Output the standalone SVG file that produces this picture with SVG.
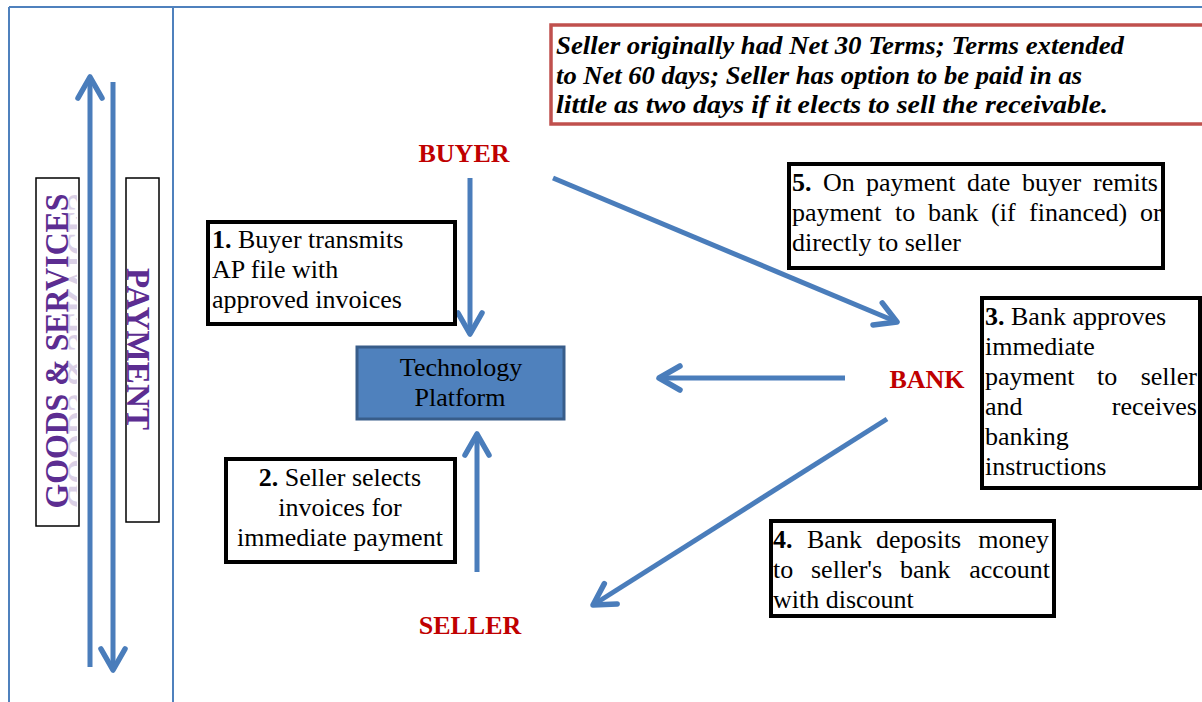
<svg xmlns="http://www.w3.org/2000/svg" width="1202" height="702" viewBox="0 0 1202 702">
<style>
.frame{stroke:#4f81bd;stroke-width:2;fill:none}
.conn{stroke:#4a7dbb;stroke-width:5;fill:none;stroke-linecap:butt}
.box{fill:#fff;stroke:#000;stroke-width:4}
.t{font-family:"Liberation Serif","Times New Roman",serif;font-size:26px;fill:#000}
.b{font-weight:bold}
.e{text-anchor:end}
.lbl{font-family:"Liberation Serif","Times New Roman",serif;font-size:26px;font-weight:bold;fill:#c00000;text-anchor:middle}
.vert{font-family:"Liberation Serif","Times New Roman",serif;font-weight:bold;fill:#5c2d91;text-anchor:middle}
.note{font-family:"Liberation Serif","Times New Roman",serif;font-size:26px;font-weight:bold;font-style:italic;fill:#000}
</style>
<defs>
<marker id="ah" markerUnits="userSpaceOnUse" markerWidth="40" markerHeight="40" viewBox="-30 -20 40 40" refX="0" refY="0" orient="auto">
<path d="M-21,-12 L0,0 L-21,12" fill="none" stroke="#4a7dbb" stroke-width="5.5" stroke-linecap="round" stroke-linejoin="round"/>
</marker>
<linearGradient id="pg" x1="0" y1="0" x2="1" y2="0">
<stop offset="0" stop-color="#4b2380"/>
<stop offset="0.5" stop-color="#7030a0"/>
<stop offset="1" stop-color="#4b2380"/>
</linearGradient>
<clipPath id="refl"><rect x="68" y="180" width="9" height="343"/></clipPath>
</defs>
<rect width="1202" height="702" fill="#fff"/>
<g id="frame">
<line class="frame" x1="9" y1="7" x2="1202" y2="7"/>
<line class="frame" x1="9" y1="7" x2="9" y2="702"/>
<line class="frame" x1="173" y1="7" x2="173" y2="702"/>
</g>
<g id="flows">
<line class="conn" x1="90" y1="667" x2="90" y2="77" marker-end="url(#ah)"/>
<line class="conn" x1="113" y1="82" x2="113" y2="670" marker-end="url(#ah)"/>
</g>
<g id="goods-services">
<rect x="36" y="178" width="43" height="348" fill="#fff" stroke="#000" stroke-width="1.5"/>
<text class="vert" font-size="34" transform="translate(68,351) rotate(-90)" textLength="315" lengthAdjust="spacingAndGlyphs" fill="url(#pg)">GOODS &amp; SERVICES</text>
<g clip-path="url(#refl)" opacity="0.22">
<g transform="translate(136,0) scale(-1,1)">
<text class="vert" font-size="34" transform="translate(68,351) rotate(-90)" textLength="315" lengthAdjust="spacingAndGlyphs">GOODS &amp; SERVICES</text>
</g>
</g>
</g>
<g id="payment">
<rect x="126" y="178" width="33" height="344" fill="#fff" stroke="#000" stroke-width="1.5"/>
<text class="vert" font-size="33" transform="translate(127,349) rotate(90)" textLength="162" lengthAdjust="spacingAndGlyphs">PAYMENT</text>
</g>
<g id="note">
<rect x="551" y="25" width="660" height="99" fill="#fff" stroke="#c0504d" stroke-width="3.5"/>
<text class="note" x="556" y="54" textLength="568" lengthAdjust="spacingAndGlyphs">Seller originally had Net 30 Terms; Terms extended</text>
<text class="note" x="556" y="84" textLength="526" lengthAdjust="spacingAndGlyphs">to Net 60 days; Seller has option to be paid in as</text>
<text class="note" x="556" y="113" textLength="552" lengthAdjust="spacingAndGlyphs">little as two days if it elects to sell the receivable.</text>
</g>
<g id="connectors">
<line class="conn" x1="470" y1="178" x2="470" y2="334" marker-end="url(#ah)"/>
<line class="conn" x1="477" y1="572" x2="477" y2="434" marker-end="url(#ah)"/>
<line class="conn" x1="845" y1="378" x2="659" y2="378" marker-end="url(#ah)"/>
<line class="conn" x1="553" y1="178" x2="897" y2="322" marker-end="url(#ah)"/>
<line class="conn" x1="887" y1="419" x2="593" y2="605" marker-end="url(#ah)"/>
</g>
<g id="buyer"><text class="lbl" x="464" y="162">BUYER</text></g>
<g id="bank"><text class="lbl" x="927" y="388">BANK</text></g>
<g id="seller"><text class="lbl" x="470" y="634">SELLER</text></g>
<g id="platform">
<rect x="357" y="347" width="207" height="72" fill="#4f81bd" stroke="#385d8a" stroke-width="3"/>
<text class="t" x="461" y="376" text-anchor="middle">Technology</text>
<text class="t" x="460" y="406" text-anchor="middle">Platform</text>
</g>
<g id="step1">
<rect class="box" x="208" y="222" width="247" height="102"/>
<text class="t" x="212" y="248"><tspan class="b">1.</tspan> Buyer transmits</text>
<text class="t" x="212" y="278">AP file with</text>
<text class="t" x="212" y="308">approved invoices</text>
</g>
<g id="step2">
<rect class="box" x="226" y="459" width="229" height="103"/>
<text class="t" x="340" y="486" text-anchor="middle"><tspan class="b">2.</tspan> Seller selects</text>
<text class="t" x="340" y="516" text-anchor="middle">invoices for</text>
<text class="t" x="340" y="546" text-anchor="middle">immediate payment</text>
</g>
<g id="step5">
<rect class="box" x="789" y="164" width="374" height="104"/>
<text class="t" y="191"><tspan class="b" x="792">5.</tspan><tspan x="823">On</tspan><tspan x="866">payment</tspan><tspan x="967">date</tspan><tspan x="1022">buyer</tspan></text>
<text class="t e" x="1158" y="191">remits</text>
<text class="t" y="221"><tspan x="792">payment</tspan><tspan x="895">to</tspan><tspan x="928">bank</tspan><tspan x="991">(if</tspan><tspan x="1029">financed)</tspan><tspan x="1140">or</tspan></text>
<text class="t" x="792" y="251">directly to seller</text>
</g>
<g id="step3">
<rect class="box" x="982" y="298" width="218" height="190"/>
<text class="t" x="985" y="325"><tspan class="b">3.</tspan> Bank approves</text>
<text class="t" x="985" y="355">immediate</text>
<text class="t" y="385"><tspan x="985">payment</tspan><tspan x="1097">to</tspan></text>
<text class="t e" x="1197" y="385">seller</text>
<text class="t" x="985" y="415">and</text>
<text class="t e" x="1197" y="415">receives</text>
<text class="t" x="985" y="445">banking</text>
<text class="t" x="985" y="475">instructions</text>
</g>
<g id="step4">
<rect class="box" x="771" y="521" width="283" height="95"/>
<text class="t" y="548"><tspan class="b" x="773">4.</tspan><tspan x="807">Bank</tspan><tspan x="876">deposits</tspan></text>
<text class="t e" x="1049" y="548">money</text>
<text class="t" y="578"><tspan x="773">to</tspan><tspan x="811">seller's</tspan><tspan x="900">bank</tspan></text>
<text class="t e" x="1050" y="578">account</text>
<text class="t" x="773" y="608">with discount</text>
</g>
</svg>
